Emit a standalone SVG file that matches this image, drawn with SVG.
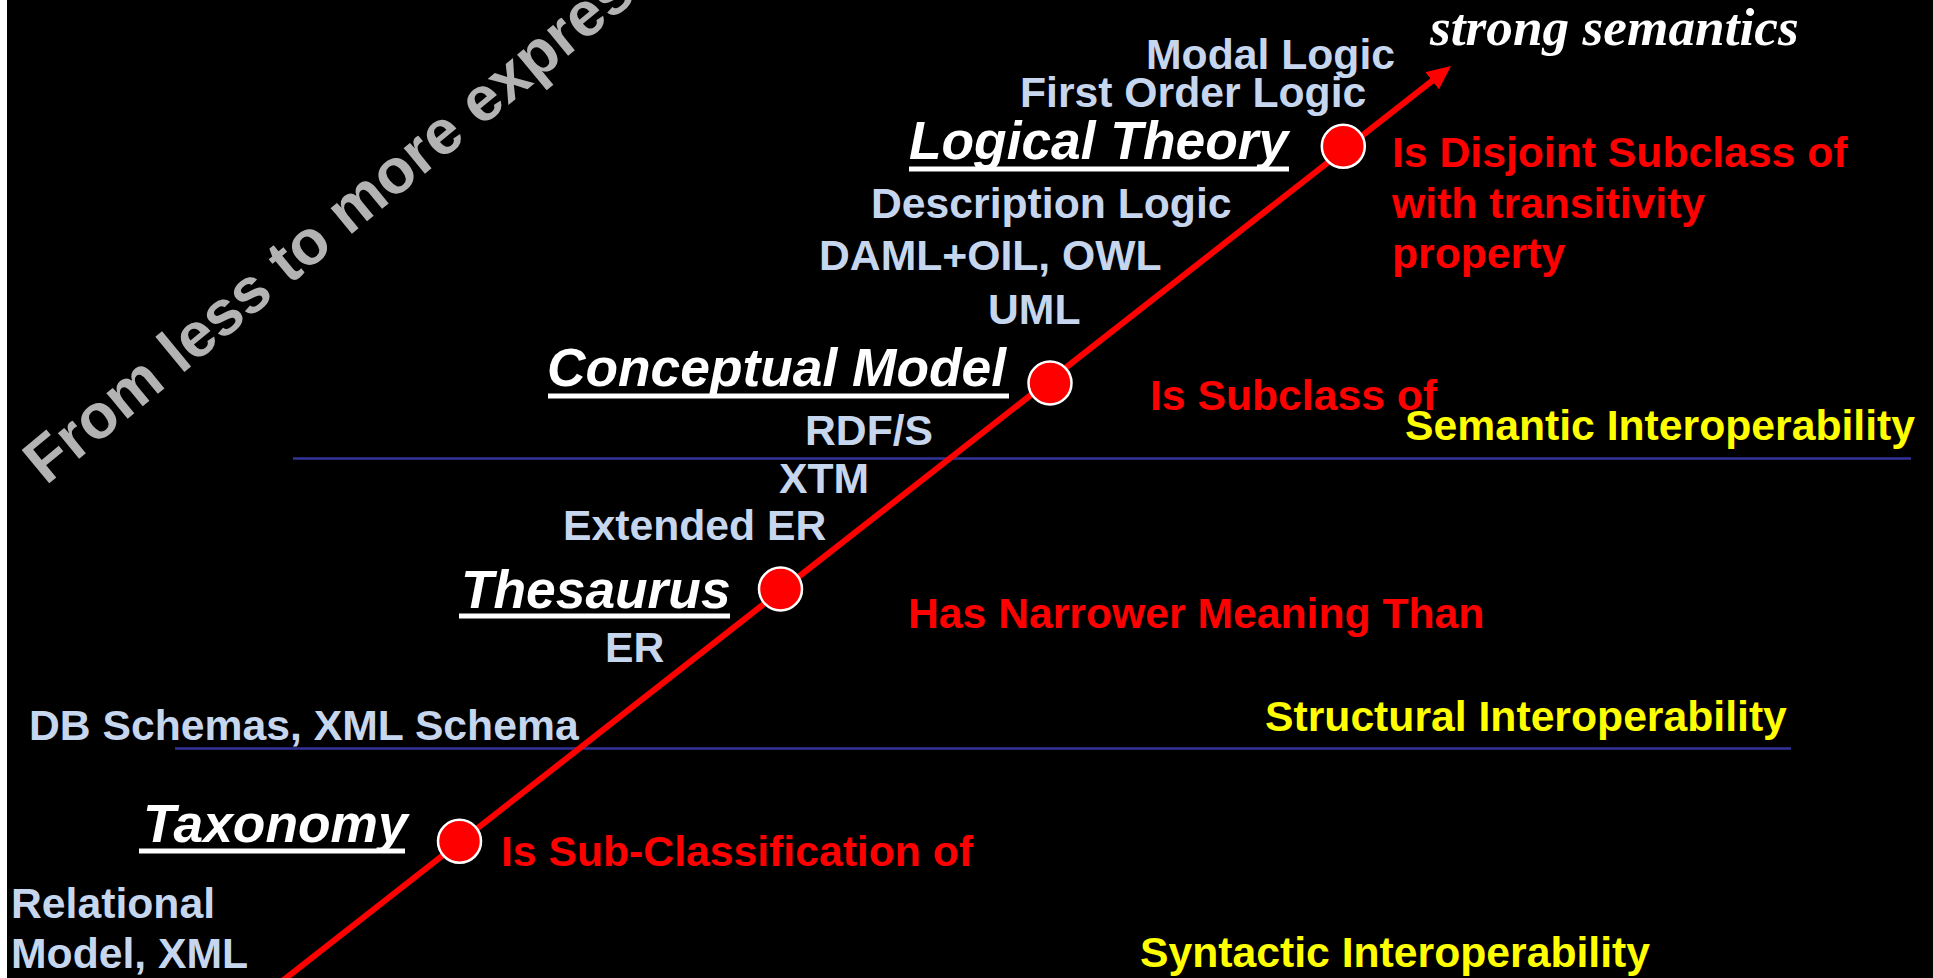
<svg xmlns="http://www.w3.org/2000/svg" width="1933" height="978" viewBox="0 0 1933 978">
<style>
.t{font-family:"Liberation Sans",Arial,sans-serif;font-weight:bold;font-size:42.7px}
.b{fill:#c6d6ee}
.r{fill:#ff0000}
.y{fill:#ffff00}
.n{font-family:"Liberation Sans",Arial,sans-serif;font-weight:bold;font-style:italic;font-size:53.3px;fill:#ffffff}
.u{fill:#ffffff}
.dot{fill:#ff0000;stroke:#ffffff;stroke-width:2.5}
.lvl{stroke:#333399;stroke-width:2.7}
</style>
<defs>
<marker id="ah" markerUnits="userSpaceOnUse" markerWidth="24" markerHeight="22" refX="4" refY="11" orient="auto" viewBox="0 0 24 22">
<path d="M0,0 L24,11 L0,22 z" fill="#ff0000"/>
</marker>
</defs>
<rect x="0" y="0" width="1933" height="978" fill="#000000"/>
<rect x="0" y="0" width="7" height="978" fill="#ffffff"/>
<text transform="translate(46,486) rotate(-39.5)" font-family="Liberation Sans, Arial, sans-serif" font-weight="bold" font-size="63" fill="#b3b3b3">From less to more expressive</text>
<g id="levels">
<line class="lvl" x1="293" y1="458.5" x2="1911" y2="458.5"/>
<line class="lvl" x1="175" y1="748.5" x2="1791" y2="748.5"/>
</g>
<g id="connectors">
<line x1="281" y1="982" x2="1435.3" y2="78.3" stroke="#ff0000" stroke-width="6" marker-end="url(#ah)"/>
</g>
<g id="taxonomy">
<text class="n" x="143" y="842">Taxonomy</text>
<rect class="u" x="139" y="848.5" width="266" height="5"/>
<circle class="dot" cx="459.5" cy="841.3" r="21.5"/>
</g>
<g id="thesaurus">
<text class="n" x="461" y="608">Thesaurus</text>
<rect class="u" x="459" y="613.5" width="271" height="5"/>
<circle class="dot" cx="780.5" cy="589" r="21.5"/>
</g>
<g id="conceptual-model">
<text class="n" x="547" y="386">Conceptual Model</text>
<rect class="u" x="548" y="393.5" width="461" height="5"/>
<circle class="dot" cx="1050" cy="383" r="21.5"/>
</g>
<g id="logical-theory">
<text class="n" x="909" y="159">Logical Theory</text>
<rect class="u" x="909" y="166.5" width="380" height="5"/>
<circle class="dot" cx="1343.3" cy="146.3" r="21.5"/>
</g>
<g id="examples">
<text class="t b" x="1146" y="69">Modal Logic</text>
<text class="t b" x="1020" y="107">First Order Logic</text>
<text class="t b" x="871" y="218">Description Logic</text>
<text class="t b" x="819" y="270">DAML+OIL, OWL</text>
<text class="t b" x="988" y="324">UML</text>
<text class="t b" x="805" y="445">RDF/S</text>
<text class="t b" x="779" y="493">XTM</text>
<text class="t b" x="563" y="540">Extended ER</text>
<text class="t b" x="605" y="662">ER</text>
<text class="t b" x="29" y="740">DB Schemas, XML Schema</text>
<text class="t b" x="11" y="918">Relational</text>
<text class="t b" x="11" y="968">Model, XML</text>
</g>
<g id="relations">
<text class="t r" x="1392" y="167">Is Disjoint Subclass of</text>
<text class="t r" x="1392" y="218">with transitivity</text>
<text class="t r" x="1392" y="268">property</text>
<text class="t r" x="1150" y="410">Is Subclass of</text>
<text class="t r" x="908" y="628">Has Narrower Meaning Than</text>
<text class="t r" x="501" y="866">Is Sub-Classification of</text>
</g>
<g id="interoperability">
<text class="t y" x="1405" y="440">Semantic Interoperability</text>
<text class="t y" x="1265" y="731">Structural Interoperability</text>
<text class="t y" x="1140" y="967">Syntactic Interoperability</text>
</g>
<text x="1430" y="45" font-family="Liberation Serif, 'Times New Roman', serif" font-style="italic" font-weight="bold" font-size="53.3" fill="#ffffff">strong semantics</text>
</svg>
